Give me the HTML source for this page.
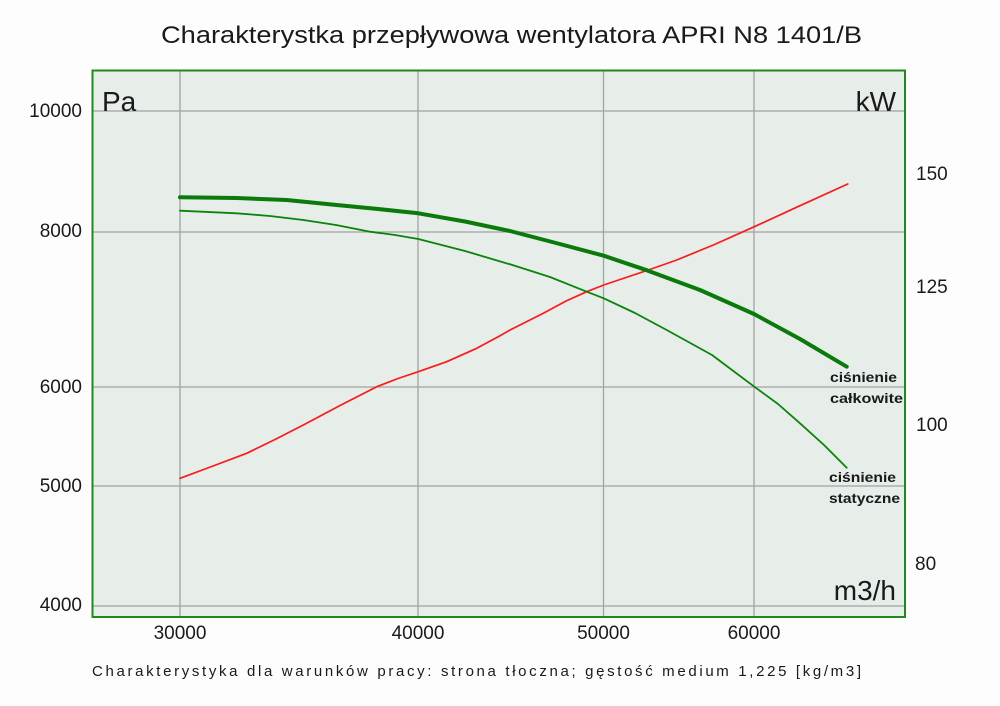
<!DOCTYPE html>
<html>
<head>
<meta charset="utf-8">
<style>
html,body{margin:0;padding:0;background:#fdfdfd;}
svg{display:block;}
text{font-family:"Liberation Sans","DejaVu Sans",sans-serif;fill:#1a1a1a;}
</style>
</head>
<body>
<svg width="1000" height="706" viewBox="0 0 1000 706" xmlns="http://www.w3.org/2000/svg">
<rect x="0" y="0" width="1000" height="706" fill="#fdfdfd"/>
<text x="161" y="43" font-size="24" textLength="701" lengthAdjust="spacingAndGlyphs">Charakterystka przepływowa wentylatora APRI N8 1401/B</text>

<!-- plot area -->
<rect x="92.5" y="70.5" width="812.5" height="546.5" fill="#e7ede9"/>
<g stroke="#a3a3a3" stroke-width="1.3" fill="none">
<line x1="93" y1="111" x2="905" y2="111"/>
<line x1="93" y1="232" x2="905" y2="232"/>
<line x1="93" y1="387" x2="905" y2="387"/>
<line x1="93" y1="486" x2="905" y2="486"/>
<line x1="93" y1="606" x2="905" y2="606"/>
<line x1="180" y1="71" x2="180" y2="617"/>
<line x1="418" y1="71" x2="418" y2="617"/>
<line x1="603.5" y1="71" x2="603.5" y2="617"/>
<line x1="754" y1="71" x2="754" y2="617"/>
</g>
<rect x="92.5" y="70.5" width="812.5" height="546.5" fill="none" stroke="#1e8a1e" stroke-width="2"/>

<!-- curves -->
<polyline fill="none" stroke="#ff1a1a" stroke-width="1.7" stroke-linejoin="round" stroke-linecap="round"
points="180,478.3 213,466 246.7,453.3 275,439.5 303.3,425 340,405.5 376.7,386.7 398,378.5 418.3,371.7 446.7,361.7 476.7,348.3 500,335.7 510,330 543.3,313.3 566,301 586.7,291.7 603.7,285 626,277.5 648.3,270 676.7,260 713.3,245 754.3,226.7 800,205.7 847.7,184"/>
<polyline fill="none" stroke="#0a840a" stroke-width="1.8" stroke-linejoin="round" stroke-linecap="round"
points="180,210.7 236.7,213.3 270,216 303.3,220 336,225 370,231.7 395,235 418.3,239 465,251 510,264.3 550,277 586.7,291.7 603.7,298.3 635,313 666.7,330 712,355 754.3,386.7 778,404 800,423.3 824,445 846.7,467.7"/>
<polyline fill="none" stroke="#0a7a0a" stroke-width="4" stroke-linejoin="round" stroke-linecap="round"
points="180,197.3 236.7,198 286.7,200 336.7,205 378,209 418.3,213.3 465,221.5 510,231 556,243 603.7,255.7 648,270.7 700,290 754,314 800,339 846.7,366.7"/>

<!-- unit labels -->
<text x="102" y="111" font-size="28">Pa</text>
<text x="896" y="111" font-size="28" text-anchor="end">kW</text>
<text x="896" y="600" font-size="28" text-anchor="end">m3/h</text>

<!-- series labels -->
<g font-size="14" font-weight="bold" fill="#222">
<text x="830" y="382" textLength="67" lengthAdjust="spacingAndGlyphs">ciśnienie</text>
<text x="830" y="403" textLength="73" lengthAdjust="spacingAndGlyphs">całkowite</text>
<text x="829" y="482" textLength="67" lengthAdjust="spacingAndGlyphs">ciśnienie</text>
<text x="829" y="503" textLength="71" lengthAdjust="spacingAndGlyphs">statyczne</text>
</g>

<!-- left ticks -->
<g font-size="19" text-anchor="end">
<text x="82" y="117">10000</text>
<text x="82" y="237">8000</text>
<text x="82" y="393">6000</text>
<text x="82" y="492">5000</text>
<text x="82" y="611">4000</text>
</g>
<!-- right ticks -->
<g font-size="19">
<text x="916" y="180">150</text>
<text x="916" y="293">125</text>
<text x="916" y="431">100</text>
<text x="915" y="570">80</text>
</g>
<!-- bottom ticks -->
<g font-size="19" text-anchor="middle">
<text x="180" y="639">30000</text>
<text x="418" y="639">40000</text>
<text x="603.5" y="639">50000</text>
<text x="754" y="639">60000</text>
</g>

<text x="92" y="676" font-size="15" textLength="769" lengthAdjust="spacing" fill="#222">Charakterystyka dla warunków pracy: strona tłoczna; gęstość medium 1,225 [kg/m3]</text>
</svg>
</body>
</html>
